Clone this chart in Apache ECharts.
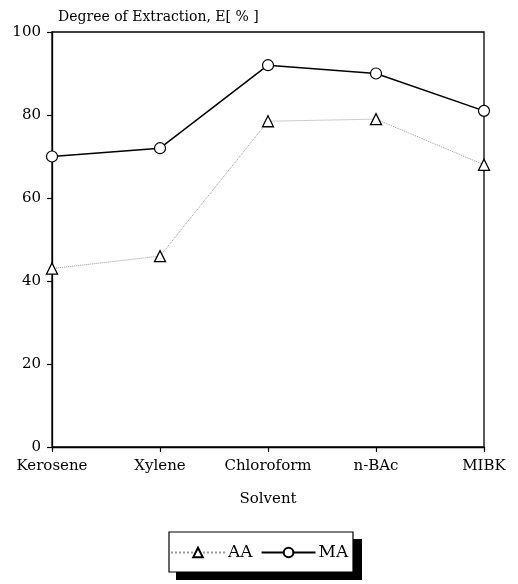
<!DOCTYPE html>
<html>
<head>
<meta charset="utf-8">
<script src="https://cdn.jsdelivr.net/npm/echarts@6/dist/echarts.min.js"></script>
<style>
  html, body { margin: 0; padding: 0; background: #fff; }
  #chart { width: 518px; height: 584px; }
</style>
</head>
<body>
<div id="chart"></div>
<script>
// Solvents on the horizontal axis
const solvents = ['Kerosene', 'Xylene', 'Chloroform', 'n-BAc', 'MIBK'];
// Degree of extraction E [%] for each acid
const aaValues = [43, 46, 78.5, 79, 68];
const maValues = [70, 72, 92, 90, 81];
const yTicks = [0, 20, 40, 60, 80, 100];

const serif = '"DejaVu Serif", "Liberation Serif", serif';

const chart = echarts.init(document.getElementById('chart'));
chart.setOption({
  animation: false,
  backgroundColor: '#fff',
  textStyle: { fontFamily: serif, color: '#000' },
  grid: {
    left: 52, right: 34, top: 32, bottom: 137,
    show: true, borderColor: '#000', borderWidth: 1.3, backgroundColor: 'transparent'
  },
  title: {
    text: 'Degree of Extraction, E[ % ]',
    left: 53, top: 5,
    textStyle: { fontFamily: serif, fontSize: 14, fontWeight: 'normal', color: '#000' }
  },
  xAxis: {
    type: 'category',
    data: solvents,
    boundaryGap: false,
    name: 'Solvent',
    nameLocation: 'middle',
    nameGap: 45,
    nameTextStyle: { fontFamily: serif, fontSize: 15, color: '#000' },
    axisLine: { lineStyle: { color: '#000', width: 1.3 } },
    axisTick: { show: true, inside: false, length: 5, interval: 0, lineStyle: { color: '#000', width: 1.2 } },
    axisLabel: { fontFamily: serif, fontSize: 15, color: '#000', margin: 12, interval: 0, hideOverlap: false },
    splitLine: { show: false }
  },
  yAxis: {
    type: 'value',
    min: yTicks[0], max: yTicks[yTicks.length - 1], interval: 20,
    axisLine: { show: true, lineStyle: { color: '#000', width: 1.3 } },
    axisTick: { show: true, inside: false, length: 5, lineStyle: { color: '#000', width: 1.2 } },
    axisLabel: { fontFamily: serif, fontSize: 15, color: '#000', margin: 11 },
    splitLine: { show: false }
  },
  legend: {
    left: 170, top: 544, padding: 0,
    itemWidth: 54, itemHeight: 12, itemGap: 8,
    textStyle: { fontFamily: serif, fontSize: 17, color: '#000', padding: [0, 0, 0, -2] },
    data: ['AA', 'MA']
  },
  graphic: [
    { type: 'rect', z: 0, shape: { x: 176, y: 539, width: 186, height: 41 }, style: { fill: '#000' } },
    { type: 'rect', z: 1, shape: { x: 169, y: 532, width: 184, height: 40 }, style: { fill: '#fff', stroke: '#000', lineWidth: 1.2 } }
  ],
  series: [
    {
      name: 'AA', type: 'line', data: aaValues,
      symbol: 'triangle', symbolSize: 11,
      itemStyle: { color: '#fff', borderColor: '#000', borderWidth: 1.3 },
      lineStyle: { color: '#999', width: 1, type: 'dotted' },
      z: 5
    },
    {
      name: 'MA', type: 'line', data: maValues,
      symbol: 'circle', symbolSize: 11,
      itemStyle: { color: '#fff', borderColor: '#000', borderWidth: 1.2 },
      lineStyle: { color: '#000', width: 1.5 },
      z: 5
    }
  ]
});
</script>
</body>
</html>
